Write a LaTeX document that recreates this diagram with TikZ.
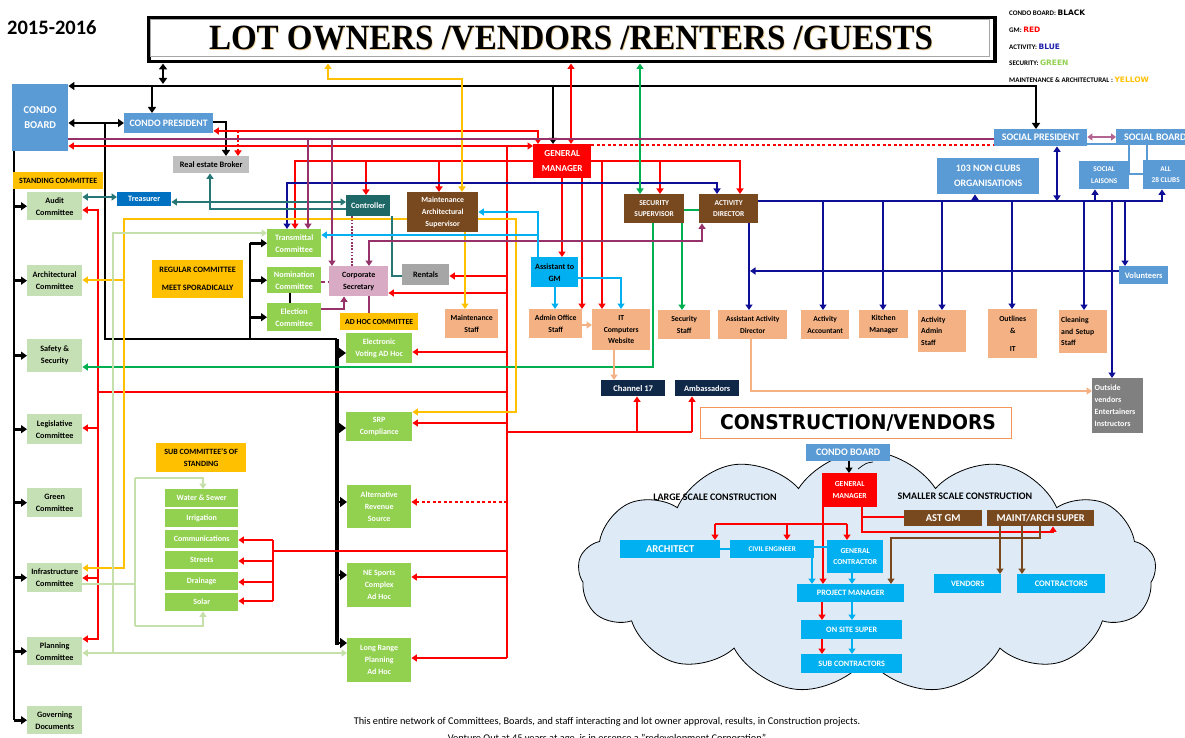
\documentclass[tikz,border=0pt]{standalone}
\usepackage{fontspec}
\usepackage{graphicx}
\setmainfont{Carlito}
\newfontfamily\titlefont{Liberation Serif}
\newfontfamily\heavyfont{DejaVu Sans}
\usetikzlibrary{arrows.meta,shapes.symbols,backgrounds}

\definecolor{cbBlue}{RGB}{91,155,213}
\definecolor{trBlue}{RGB}{0,112,192}
\definecolor{actNavy}{RGB}{14,14,150}
\definecolor{secGreen}{RGB}{0,176,80}
\definecolor{maintYellow}{RGB}{255,192,0}
\definecolor{tealLine}{RGB}{38,118,118}
\definecolor{tealBox}{RGB}{30,104,104}
\definecolor{plum}{RGB}{150,50,105}
\definecolor{rose}{RGB}{180,100,145}
\definecolor{paleGreen}{RGB}{197,224,180}
\definecolor{lineGreen}{RGB}{197,224,170}
\definecolor{leafGreen}{RGB}{146,208,80}
\definecolor{salmon}{RGB}{244,177,131}
\definecolor{bark}{RGB}{120,72,30}
\definecolor{sky}{RGB}{0,176,240}
\definecolor{silver}{RGB}{191,191,191}
\definecolor{ash}{RGB}{166,166,166}
\definecolor{slate}{RGB}{128,128,128}
\definecolor{ink}{RGB}{16,40,72}
\definecolor{pinkBox}{RGB}{216,170,196}
\definecolor{mist}{RGB}{222,235,247}
\definecolor{peach}{RGB}{244,150,90}
\definecolor{legNavy}{RGB}{30,30,170}
\definecolor{halo}{RGB}{236,206,150}

\newcommand\fs[2]{\fontsize{#1}{#2}\selectfont\bfseries}
% box by its corners: name, x1, y1, x2, y2, style, text
\newcommand\orgbox[7]{%
  \node[bx,#6,anchor=north west,minimum width={(#4)-(#2)},minimum height={(#5)-(#3)}] (#1) at (#2,#3) {#7};}

\tikzset{
  >={Triangle[length=5.5pt,width=7pt]},
  bx/.style={inner sep=0pt,align=center,font=\fs{8.2}{12},text=black},
  lgt/.style={bx,fill=paleGreen},
  grn/.style={bx,fill=leafGreen,text=white,font=\fs{8}{12}},
  sal/.style={bx,fill=salmon,font=\fs{7.7}{11.5}},
  org/.style={bx,fill=maintYellow,font=\fs{8}{11.5}},
  blu/.style={bx,fill=cbBlue,text=white},
  brn/.style={bx,fill=bark,text=white,font=\fs{7.5}{11.5}},
  cya/.style={bx,fill=sky,text=white,font=\fs{8.2}{11}},
  wire/.style={line join=miter,line cap=butt},
  wK/.style={wire,draw=black,line width=2.6pt,>={Triangle[length=6pt,width=8pt]}},
  wR/.style={wire,draw=red,line width=2.6pt},
  wRt/.style={wire,draw=red,line width=2pt},
  wN/.style={wire,draw=actNavy,line width=2.4pt},
  wG/.style={wire,draw=secGreen,line width=2.6pt},
  wY/.style={wire,draw=maintYellow,line width=2.4pt},
  wT/.style={wire,draw=tealLine,line width=2pt},
  wP/.style={wire,draw=plum,line width=2pt},
  wC/.style={wire,draw=sky,line width=2.2pt},
  wS/.style={wire,draw=salmon,line width=2.2pt},
  wL/.style={wire,draw=lineGreen,line width=2.4pt},
  wB/.style={wire,draw=bark,line width=2.2pt},
}

\begin{document}
\begin{tikzpicture}[x=1pt,y=-1pt]
\useasboundingbox (0,0) rectangle (1185,738);

% ---------- headings ----------
\node[anchor=west,inner sep=0,font=\fs{20.5}{24}] (year) at (7,28) {2015-2016};
\node[draw=black,line width=3.5pt,anchor=north west,inner sep=0,minimum width=846,minimum height=44] (title) at (147,16) {};
\draw[gray!70,line width=0.6pt] (150.5,19.5) rectangle (989.5,56.5);
\node[anchor=base,inner sep=0,text=halo] (titleshade) at (571.8,50.8)
  {\resizebox{724pt}{23.5pt}{\titlefont\bfseries LOT OWNERS /VENDORS /RENTERS /GUESTS}};
\node[anchor=base,inner sep=0] (titletext) at (571,50)
  {\resizebox{724pt}{23.5pt}{\titlefont\bfseries LOT OWNERS /VENDORS /RENTERS /GUESTS}};

% ---------- colour key ----------
\tikzset{legend/.style={anchor=west,inner sep=0,font=\fs{7}{8}}}
\newcommand\keyword[2]{{\heavyfont\bfseries\fontsize{7.5}{8}\selectfont\color{#1}#2}}
\node[legend] (keyK) at (1009,13) {CONDO BOARD: \keyword{black}{BLACK}};
\node[legend] (keyR) at (1009,30) {GM: \keyword{red}{RED}};
\node[legend] (keyN) at (1009,47) {ACTIVITY: \keyword{legNavy}{BLUE}};
\node[legend] (keyG) at (1009,63) {SECURITY: \keyword{leafGreen}{GREEN}};
\node[legend] (keyY) at (1009,80) {MAINTENANCE \& ARCHITECTURAL : \keyword{maintYellow}{YELLOW}};

% ---------- boards and officers ----------
\orgbox{cb}{12}{84}{68}{151}{blu,font=\fs{10.5}{15}}{CONDO\\BOARD}
\orgbox{cp}{124}{113}{213}{133}{blu,font=\fs{9.8}{11}}{CONDO PRESIDENT}
\orgbox{broker}{173}{156}{249}{173}{bx,fill=silver,font=\fs{8.3}{9}}{Real estate Broker}
\orgbox{standing}{13}{172}{103}{189}{org}{STANDING COMMITTEE}
\orgbox{treas}{117}{192}{171}{206}{bx,fill=trBlue,text=white}{Treasurer}
\orgbox{ctrl}{346}{195}{390}{216}{bx,fill=tealBox,text=white}{Controller}
\orgbox{maint}{407}{192}{478}{232}{brn,font=\fs{7.8}{12}}{Maintenance\\Architectural\\Supervisor}
\orgbox{gm}{533}{144}{591}{178}{bx,fill=red,text=white,font=\fs{9.2}{14.5}}{GENERAL\\MANAGER}
\orgbox{secsup}{624}{194}{684}{223}{brn}{SECURITY\\SUPERVISOR}
\orgbox{actdir}{699}{194}{758}{223}{brn}{ACTIVITY\\DIRECTOR}
\orgbox{socpres}{994}{129}{1087}{146}{blu,font=\fs{10}{11}}{SOCIAL PRESIDENT}
\orgbox{socboard}{1116}{129}{1194}{145}{blu,font=\fs{10}{11}}{SOCIAL BOARD}
\orgbox{nonclubs}{937}{158}{1039}{194}{blu,font=\fs{9.8}{15}}{103 NON CLUBS\\ORGANISATIONS}
\orgbox{laisons}{1079}{161}{1129}{189}{blu,font=\fs{7.3}{12}}{SOCIAL\\LAISONS}
\orgbox{clubs}{1143}{160}{1188}{189}{blu,font=\fs{7.3}{11}}{ALL\\28 CLUBS}

% ---------- standing committees ----------
\orgbox{audit}{27}{192}{82}{220}{lgt}{Audit\\Committee}
\orgbox{arch}{27}{265}{82}{296}{lgt}{Architectural\\Committee}
\orgbox{safety}{27}{339}{82}{372}{lgt}{Safety \&\\Security}
\orgbox{legis}{27}{414}{82}{444}{lgt}{Legislative\\Committee}
\orgbox{greencom}{27}{488}{82}{517}{lgt}{Green\\Committee}
\orgbox{infra}{27}{563}{82}{592}{lgt}{Infrastructure\\Committee}
\orgbox{plan}{27}{637}{82}{665}{lgt}{Planning\\Committee}
\orgbox{govern}{27}{706}{82}{734}{lgt}{Governing\\Documents}

\orgbox{regular}{152}{260}{243}{298}{org,font=\fs{8.2}{11}}{REGULAR COMMITTEE\\[7pt]MEET SPORADICALLY}
\orgbox{subst}{156}{443}{246}{472}{org}{SUB COMMITTEE'S OF\\STANDING}

% sub committees of standing
\orgbox{water}{165}{489}{238}{507}{grn}{Water \& Sewer}
\orgbox{irrig}{165}{509}{238}{527}{grn}{Irrigation}
\orgbox{comm}{165}{530}{238}{548}{grn}{Communications}
\orgbox{streets}{165}{551}{238}{569}{grn}{Streets}
\orgbox{drain}{165}{572}{238}{590}{grn}{Drainage}
\orgbox{solar}{165}{593}{238}{611}{grn}{Solar}

% regular committees
\orgbox{trans}{267}{229}{321}{257}{grn,font=\fs{8.2}{12}}{Transmittal\\Committee}
\orgbox{nomin}{267}{267}{321}{293}{grn,font=\fs{8.2}{12}}{Nomination\\Committee}
\orgbox{elect}{267}{303}{321}{331}{grn,font=\fs{8.2}{12}}{Election\\Committee}
\orgbox{corpsec}{329}{266}{388}{296}{bx,fill=pinkBox,font=\fs{8}{12}}{Corporate\\Secretary}
\orgbox{rentals}{402}{264}{449}{285}{bx,fill=ash}{Rentals}

% ad hoc committees
\orgbox{adhoc}{340}{313}{418}{330}{org,font=\fs{7.8}{9}}{AD HOC COMMITTEE}
\orgbox{evote}{346}{333}{412}{363}{grn}{Electronic\\Voting AD Hoc}
\orgbox{srp}{346}{412}{412}{441}{grn}{SRP\\Compliance}
\orgbox{altrev}{347}{485}{411}{528}{grn}{Alternative\\Revenue\\Source}
\orgbox{nesports}{347}{563}{411}{607}{grn}{NE Sports\\Complex\\Ad Hoc}
\orgbox{longr}{347}{638}{411}{682}{grn}{Long Range\\Planning\\Ad Hoc}

% ---------- staff ----------
\orgbox{asstgm}{531}{257}{578}{287}{bx,fill=sky,font=\fs{8.1}{12}}{Assistant to\\GM}
\orgbox{mstaff}{445}{309}{498}{338}{sal}{Maintenance\\Staff}
\orgbox{admin}{529}{309}{582}{338}{sal}{Admin Office\\Staff}
\orgbox{it}{592}{309}{650}{350}{sal}{IT\\Computers\\Website}
\orgbox{secstaff}{658}{310}{710}{339}{sal}{Security\\Staff}
\orgbox{asstact}{718}{310}{787}{339}{sal,font=\fs{7.5}{11.5}}{Assistant Activity\\Director}
\orgbox{actacc}{801}{310}{849}{339}{sal,font=\fs{7.5}{12}}{Activity\\Accountant}
\orgbox{kitchen}{859}{310}{908}{338}{sal}{Kitchen\\Manager}
\orgbox{actadmin}{918}{310}{966}{352}{sal,align=left,text width=42}{Activity\\Admin\\Staff}
\orgbox{outlines}{988}{309}{1037}{358}{sal}{Outlines\\[1pt]\&\\[6pt]IT}
\orgbox{clean}{1059}{310}{1107}{353}{sal,align=left,text width=44}{Cleaning\\and Setup\\Staff}
\orgbox{volunt}{1119}{266}{1168}{284}{blu,font=\fs{8.4}{10}}{Volunteers}
\orgbox{outside}{1092}{378}{1143}{433}{bx,fill=slate,text=white,align=left,text width=46,font=\fs{8}{12.3}}{Outside\\vendors\\Entertainers\\Instructors}
\orgbox{ch17}{601}{380}{665}{396}{bx,fill=ink,text=white,font=\fs{8.6}{9}}{Channel 17}
\orgbox{amb}{675}{380}{739}{396}{bx,fill=ink,text=white,font=\fs{8.3}{9}}{Ambassadors}

% ---------- construction ----------
\node[draw=peach,line width=0.9pt,fill=white,anchor=north west,minimum width=311,minimum height=31,inner sep=0] (constr) at (700,407) {};
\node[anchor=base,inner sep=0] (constrtext) at (858,429)
  {\resizebox{276pt}{15pt}{\heavyfont\bfseries CONSTRUCTION/VENDORS}};

\orgbox{ccb}{806}{444}{890}{461}{blu,font=\fs{10}{11}}{CONDO BOARD}
\orgbox{cgm}{822}{473}{877}{507}{bx,fill=red,text=white,font=\fs{7.7}{12.5}}{GENERAL\\MANAGER}
\orgbox{ast}{904}{510}{982}{526}{bx,fill=bark,text=white,font=\fs{10.5}{11}}{AST GM}
\orgbox{mas}{987}{510}{1094}{526}{bx,fill=bark,text=white,font=\fs{10.4}{11}}{MAINT/ARCH SUPER}
\orgbox{architect}{620}{540}{720}{558}{cya,font=\fs{10.5}{11}}{ARCHITECT}
\orgbox{civil}{730}{540}{814}{558}{cya,font=\fs{7.2}{11}}{CIVIL ENGINEER}
\orgbox{gc}{827}{540}{883}{573}{cya,font=\fs{7.6}{11}}{GENERAL\\CONTRACTOR}
\orgbox{pm}{797}{584}{904}{602}{cya}{PROJECT MANAGER}
\orgbox{onsite}{801}{620}{902}{639}{cya}{ON SITE SUPER}
\orgbox{subc}{801}{654}{902}{673}{cya}{SUB CONTRACTORS}
\orgbox{vend}{934}{574}{1001}{593}{cya}{VENDORS}
\orgbox{contr}{1017}{574}{1105}{593}{cya,font=\fs{8.5}{11}}{CONTRACTORS}
\node[inner sep=0,font=\fs{10}{11}] (large) at (715,497) {LARGE SCALE CONSTRUCTION};
\node[inner sep=0,font=\fs{10}{11}] (smaller) at (965,496) {SMALLER SCALE CONSTRUCTION};

% ---------- closing note ----------
\node[inner sep=0,font=\fontsize{10.3}{11}\selectfont] (note1) at (607,722)
  {This entire network of Committees, Boards, and staff interacting and lot owner approval, results, in Construction projects.};
\node[anchor=base,inner sep=0,font=\fontsize{10.3}{11}\selectfont] (note2) at (607,741.5)
  {Venture Out at 45 years at age, is in essence a "redevelopment Corporation"};

% ================= connectors =================
\begin{pgfonlayer}{background}
\fill[white] (0,0) rectangle (1185,738);
\node[cloud,cloud puffs=13,cloud puff arc=115,aspect=2.4,draw=black,line width=0.8pt,
      fill=mist,minimum width=578,minimum height=242,inner sep=0] (cloud) at (867,572) {};

% condo board lines (black)
\draw[wK,<->] (163,0|-title.south) -- (163,84);
\draw[wK,<->] (cb.east|-0,86) -- (1036,86) -- (1036,0|-socpres.north);
\draw[wK,->] (152,86) -- (152,0|-cp.north);
\draw[wK,->] (553,86) -- (553,0|-gm.north);
\draw[wK,<->] (cb.east|-0,123) -- (cp.west|-0,123);
\draw[wK,->] (cp.east|-0,122) -- (226,122) -- (226,0|-broker.north);
\draw[wK] (14,0|-cb.south) -- (14,720);
\foreach \n in {audit,arch,safety,legis,greencom,infra,plan,govern}
  \draw[wK,->] (14,0|-\n.west) -- (\n.west);
\draw[wK] (105,123) -- (105,339) -- (337,339);
\draw[wK,line width=3.2pt] (337,339) -- (337,645);
\draw[wK] (250,339) -- (250,0|-trans.west);
\foreach \n in {trans,nomin,elect}
  \draw[wK,->] (250,0|-\n.west) -- (\n.west);
\foreach \yy/\n in {353/evote,428/srp,502/altrev,575/nesports,643/longr}
  \draw[wK,-{Triangle[length=7pt,width=10pt]}] (337,\yy) -- (\n.west|-0,\yy);
\draw[wK] (290,0|-nomin.south) -- (290,0|-elect.north);

% general manager lines (red)
\draw[wR,<->] (571,0|-title.south) -- (571,0|-gm.north);
\draw[wRt,<->] (cp.east|-0,131) -- (538,131) -- (538,0|-gm.north);
\draw[wRt,->,dash pattern=on 2.5pt off 2pt] (238,131) -- (238,0|-broker.north);
\draw[wRt,<->] (cb.east|-0,146) -- (gm.west|-0,146);
\draw[wRt,dash pattern=on 3pt off 2.5pt] (gm.east|-0,145) -- (socpres.west|-0,145);
\draw[wR,->] (gm.west|-0,161) -- (295,161) -- (295,0|-trans.north);
\draw[wR,->] (366,161) -- (366,0|-ctrl.north);
\draw[wR,->] (439,161) -- (439,0|-maint.north);
\draw[wR,->] (gm.east|-0,161) -- (740,161) -- (740,0|-actdir.north);
\draw[wR,->] (660,161) -- (660,0|-secsup.north);
\draw[wR,->] (562,0|-gm.south) -- (562,0|-asstgm.north);
\draw[wR,->] (582,0|-gm.south) -- (582,0|-admin.north);
\draw[wR,->] (602,161) -- (602,0|-it.north);
\draw[wR] (507,146) -- (507,658);
\draw[wR,->] (507,276) -- (rentals.east|-0,276);
\draw[wR,->] (507,293) -- (corpsec.east|-0,293);
\draw[wR,->] (507,352) -- (evote.east|-0,352);
\draw[wR,->] (507,423) -- (srp.east|-0,423);
\draw[wR,->,dash pattern=on 3pt off 2.5pt] (507,502) -- (altrev.east|-0,502);
\draw[wR,->] (507,577) -- (nesports.east|-0,577);
\draw[wR,->] (507,658) -- (longr.east|-0,658);
\draw[wR] (507,551) -- (273,551);
\draw[wR] (273,540) -- (273,601);
\foreach \yy/\n in {540/comm,561/streets,582/drain,601/solar}
  \draw[wR,->] (273,\yy) -- (\n.east|-0,\yy);
\draw[wR] (507,432) -- (692,432);
\draw[wR,->] (637,432) -- (637,0|-ch17.south);
\draw[wR,->] (692,432) -- (692,0|-amb.south);
\draw[wRt,line width=1.5pt] (507,392) -- (98,392);
\draw[wR,<->] (audit.east|-0,210) -- (98,210) -- (98,639) -- (plan.east|-0,639);
\draw[wR,->] (98,428) -- (legis.east|-0,428);
\draw[wR,->] (98,578) -- (infra.east|-0,578);

% activity lines (navy)
\draw[wN,<->] (287,0|-trans.north) -- (287,183) -- (717,183) -- (717,0|-actdir.north);
\draw[wN,->] (actdir.east|-0,201) -- (1162,201) -- (1162,0|-clubs.south);
\draw[wN,->] (975,201) -- (975,0|-nonclubs.south);
\draw[wN,->] (1095,201) -- (1095,0|-laisons.south);
\draw[wN,<->] (1057,0|-socpres.south) -- (1057,201);
\foreach \xx/\n in {823/actacc,883/kitchen,942/actadmin,1012/outlines,1084/clean,1112/outside,1125/volunt}
  \draw[wN,->] (\xx,201) -- (\xx,0|-\n.north);
\draw[wN,->] (749,0|-actdir.south) -- (749,0|-asstact.north);
\draw[wN,->] (volunt.west|-0,271) -- (750,271);

% security lines (green)
\draw[wG,line width=2pt,<->] (640,0|-title.south) -- (640,0|-secsup.north);
\draw[wG] (secsup.east|-0,210) -- (actdir.west|-0,210);
\draw[wG,->] (653,0|-secsup.south) -- (653,367) -- (safety.east|-0,367);
\draw[wG,->] (682,0|-secsup.south) -- (682,0|-secstaff.north);

% maintenance and architectural lines (yellow)
\draw[wY,<->] (328,0|-title.south) -- (328,79) -- (462,79) -- (462,0|-maint.north);
\draw[wY,->] (465,0|-maint.south) -- (465,0|-mstaff.north);
\draw[wY,<->] (infra.east|-0,568) -- (124,568) -- (124,219) -- (516,219) -- (516,412) -- (srp.east|-0,412);
\draw[wY,->] (124,280) -- (arch.east|-0,280);

% treasury lines (teal)
\draw[wT,<->] (audit.east|-0,197) -- (treas.west|-0,197);
\draw[wT,<->] (treas.east|-0,202) -- (ctrl.west|-0,202);
\draw[wT,->] (ctrl.west|-0,209) -- (210,209) -- (210,0|-broker.south);
\draw[wT] (392,0|-ctrl.south) -- (392,276) -- (rentals.west|-0,276);

% secretary lines (plum)
\draw[wP] (cb.east|-0,139) -- (socpres.west|-0,139);
\draw[wP,->] (308,139) -- (308,0|-trans.north);
\draw[wP,->] (332,139) -- (332,0|-corpsec.north);
\draw[wP,line width=2.6pt,dash pattern=on 1.6pt off 1.6pt] (352,0|-ctrl.south) -- (352,0|-corpsec.north);
\draw[wP,<->] (369,0|-corpsec.north) -- (369,241) -- (702,241) -- (702,0|-actdir.south);
\draw[wP,dash pattern=on 4pt off 3pt] (nomin.east|-0,282) -- (corpsec.west|-0,282);
\draw[wP,->] (elect.east|-0,309) -- (344,309) -- (344,0|-corpsec.south);
\draw[wP] (369,0|-corpsec.south) -- (369,0|-adhoc.north);

% social lines
\draw[wire,draw=rose,line width=2.2pt,{Triangle[length=5pt,width=7pt]}-{Triangle[length=5pt,width=7pt]}]
  (socpres.east|-0,137) -- (socboard.west|-0,137);
\draw[wire,draw=cbBlue,line width=1.6pt] (socpres.east|-0,144) -- (socboard.west|-0,144);
\draw[wire,draw=cbBlue,line width=2pt] (1129,0|-socboard.south) -- (1129,174) -- (clubs.west|-0,174);
\draw[wire,draw=cbBlue,line width=2pt] (1147,0|-socboard.south) -- (1147,0|-clubs.north);

% assistant to GM lines (sky)
\draw[wC,->] (538,0|-asstgm.north) -- (538,212) -- (maint.east|-0,212);
\draw[wC,->] (538,235) -- (trans.east|-0,235);
\draw[wC,->] (555,0|-asstgm.south) -- (555,0|-admin.north);
\draw[wC,->] (asstgm.east|-0,278) -- (621,278) -- (621,0|-it.north);

% staff lines (salmon)
\draw[wS,->] (admin.east|-0,325) -- (it.west|-0,325);
\draw[wS,->] (614,0|-it.south) -- (614,0|-ch17.north);
\draw[wS,->] (751,0|-asstact.south) -- (751,391) -- (outside.west|-0,391);

% planning lines (pale green)
\draw[wL,->] (113,653) -- (113,233) -- (trans.west|-0,233);
\draw[wL,<->] (plan.east|-0,653) -- (longr.west|-0,653);
\draw[wL] (infra.east|-0,584) -- (135,584);
\draw[wL] (135,478) -- (135,626);
\draw[wL,->] (135,478) -- (203,478) -- (203,0|-water.north);
\draw[wL,->] (135,626) -- (203,626) -- (203,0|-solar.south);

% construction chain
\draw[wire,draw=black,line width=2pt,->] (849,0|-ccb.south) -- (849,0|-cgm.north);
\draw[black,line width=0.7pt] (873,462) .. controls (866,463) .. (858,469);
\draw[wR,->] (823,0|-cgm.south) -- (823,0|-pm.north);
\draw[wR,->] (862,0|-cgm.south) -- (862,532) -- (1053,532) -- (1053,0|-mas.south);
\draw[wR] (862,517) -- (ast.west|-0,517);
\draw[wR] (715,524) -- (847,524);
\draw[wR,->] (715,524) -- (715,0|-architect.north);
\draw[wR,->] (787,524) -- (787,0|-civil.north);
\draw[wR,->] (847,524) -- (847,0|-gc.north);
\draw[wR,->] (822,0|-pm.south) -- (822,0|-onsite.north);
\draw[wR,->] (822,0|-onsite.south) -- (822,0|-subc.north);
\draw[wC] (architect.east|-0,549) -- (civil.west|-0,549);
\draw[wC] (civil.east|-0,547) -- (gc.west|-0,547);
\draw[wC,->] (812,0|-civil.south) -- (812,0|-pm.north);
\draw[wC,->] (852,0|-gc.south) -- (852,0|-pm.north);
\draw[wC,->] (852,0|-pm.south) -- (852,0|-onsite.north);
\draw[wC,->] (852,0|-onsite.south) -- (852,0|-subc.north);
\draw[wB,->] (1000,0|-mas.south) -- (1000,0|-vend.north);
\draw[wB,->] (1022,0|-mas.south) -- (1022,0|-contr.north);
\draw[wB,->] (1040,0|-mas.south) -- (1040,538) -- (891,538) -- (891,0|-pm.north);
\end{pgfonlayer}
\end{tikzpicture}
\end{document}
